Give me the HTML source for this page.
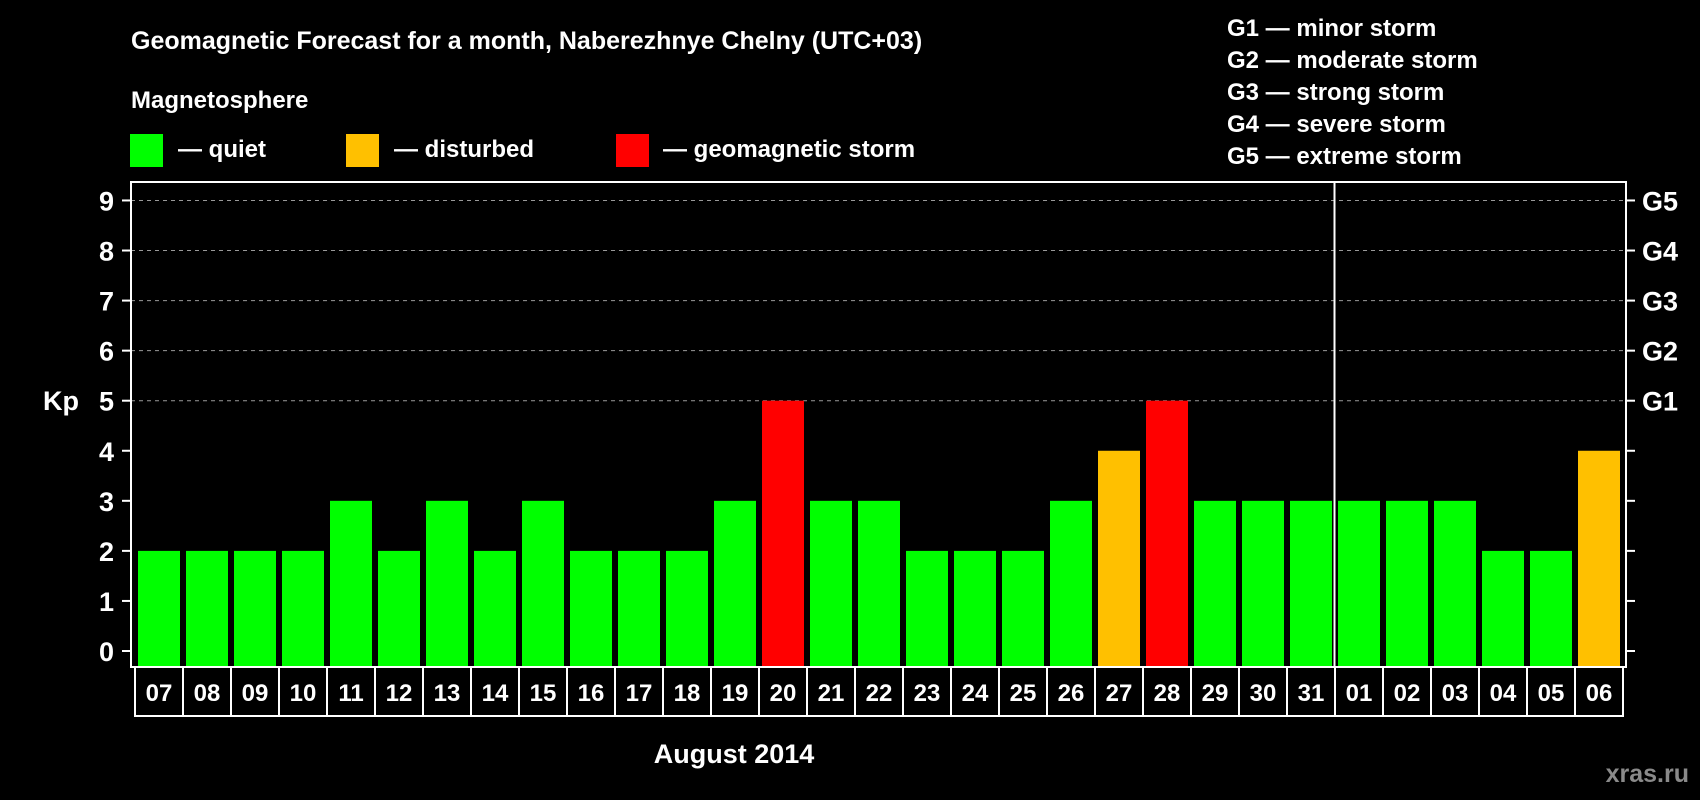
<!DOCTYPE html>
<html><head><meta charset="utf-8"><style>
html,body{margin:0;padding:0;background:#000;}
svg{display:block;font-family:"Liberation Sans",Arial,sans-serif;font-weight:bold;}
</style></head><body>
<svg id="chart" width="1700" height="800" viewBox="0 0 1700 800" xmlns="http://www.w3.org/2000/svg">
<rect x="0" y="0" width="1700" height="800" fill="#000"/>
<text x="131" y="49" fill="#fff" font-size="25">Geomagnetic Forecast for a month, Naberezhnye Chelny (UTC+03)</text>
<text x="131" y="108" fill="#fff" font-size="24">Magnetosphere</text>
<g>
<rect x="130" y="134" width="33" height="33" fill="#00ff00"/>
<text x="178" y="157" fill="#fff" font-size="24">— quiet</text></g>
<g>
<rect x="346" y="134" width="33" height="33" fill="#ffc000"/>
<text x="394" y="157" fill="#fff" font-size="24">— disturbed</text></g>
<g>
<rect x="616" y="134" width="33" height="33" fill="#ff0000"/>
<text x="663" y="157" fill="#fff" font-size="24">— geomagnetic storm</text></g>
<g fill="#fff" font-size="24">
<text x="1227" y="36">G1 — minor storm</text>
<text x="1227" y="68">G2 — moderate storm</text>
<text x="1227" y="100">G3 — strong storm</text>
<text x="1227" y="132">G4 — severe storm</text>
<text x="1227" y="164">G5 — extreme storm</text>
</g>
<text x="43" y="410" fill="#fff" font-size="27">Kp</text>
<text x="734" y="763" fill="#fff" font-size="27" text-anchor="middle">August 2014</text>
<text x="1689" y="782" fill="#8a8a8a" font-size="25" text-anchor="end">xras.ru</text>
<g id="grid"></g>
<g id="bars"></g>
<g id="axes"></g>
</svg>
<script>
const days = ["07","08","09","10","11","12","13","14","15","16","17","18","19","20","21","22","23","24","25","26","27","28","29","30","31","01","02","03","04","05","06"];
const kpValues = [2,2,2,2,3,2,3,2,3,2,2,2,3,5,3,3,2,2,2,3,4,5,3,3,3,3,3,3,2,2,4];
const yTicks = [0,1,2,3,4,5,6,7,8,9];
const gLabels = ["G1","G2","G3","G4","G5"];
const gLevels = [5,6,7,8,9];
const monthBreakAfter = "31";

const NS = "http://www.w3.org/2000/svg";
const plotL = 131, plotR = 1626, plotT = 182, plotB = 667;
const y0 = 651, unit = 50.06;
const firstX = 138, step = 48, barW = 42;
function yScale(v){ return y0 - v*unit; }
function xScale(i){ return firstX + i*step; }
function mk(tag, attrs, parent){ const e = document.createElementNS(NS, tag); for (const k in attrs) e.setAttribute(k, attrs[k]); parent.appendChild(e); return e; }
const grid = document.getElementById("grid"), bars = document.getElementById("bars"), axes = document.getElementById("axes");

yTicks.forEach(v => {
  const y = yScale(v);
  if (v >= 5) {
    const g = mk("line", {x1: plotL, x2: plotR, y1: y, y2: y, stroke: "#9a9a9a", "stroke-width": 1, "stroke-dasharray": "4,4"}, grid);
    
    
  }
  const t1 = mk("line", {x1: plotL-9, x2: plotL, y1: y, y2: y, stroke: "#fff", "stroke-width": 2}, axes);
  
  
  const t2 = mk("line", {x1: plotR, x2: plotR+9, y1: y, y2: y, stroke: "#fff", "stroke-width": 2}, axes);
  
  
  const lab = mk("text", {x: 114, y: y+10, fill: "#fff", "font-size": 27, "text-anchor": "end"}, axes);
  lab.textContent = v;
  
  
});
gLabels.forEach((g, i) => {
  const t = mk("text", {x: 1642, y: yScale(gLevels[i])+10, fill: "#fff", "font-size": 27}, axes);
  t.textContent = g;
  
  
});

kpValues.forEach((v, i) => {
  const color = v >= 5 ? "#ff0000" : (v >= 4 ? "#ffc000" : "#00ff00");
  const r = mk("rect", {x: xScale(i), y: yScale(v), width: barW, height: plotB - 1 - yScale(v), fill: color}, bars);
  
  
});

const frame = mk("rect", {x: plotL, y: plotT, width: plotR-plotL, height: plotB-plotT, fill: "none", stroke: "#fff", "stroke-width": 2}, axes);



const bi = days.indexOf(monthBreakAfter);
const sx = xScale(bi+1) - 3.5;
const sep = mk("line", {x1: sx, x2: sx, y1: plotT, y2: plotB, stroke: "#fff", "stroke-width": 2}, axes);



const cellL = 135, cellT = plotB, cellB = 716;
days.forEach((d, i) => {
  const cx = cellL + i*step;
  const c = mk("rect", {x: cx, y: cellT, width: step, height: cellB - cellT, fill: "none", stroke: "#fff", "stroke-width": 2}, axes);
  
  
  const t = mk("text", {x: cx + step/2, y: 701, fill: "#fff", "font-size": 24, "text-anchor": "middle"}, axes);
  t.textContent = d;
  
  
});
</script>
</body></html>
